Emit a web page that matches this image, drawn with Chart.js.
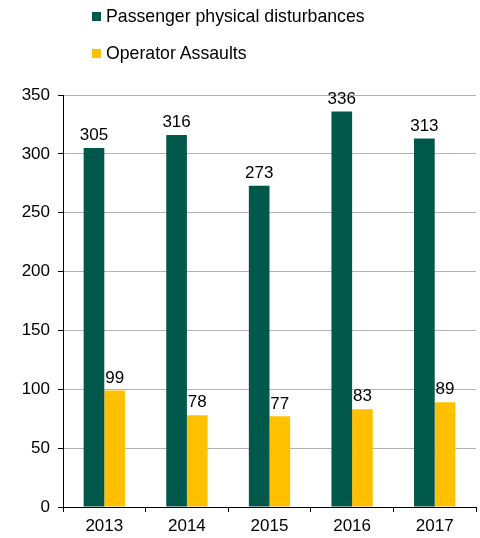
<!DOCTYPE html>
<html>
<head>
<meta charset="utf-8">
<script src="https://cdn.jsdelivr.net/npm/chart.js@4"></script>
<style>
  html, body { margin: 0; padding: 0; background: #fff; }
  #wrap { position: relative; width: 480px; height: 538px; }
  .legend { position: absolute; left: 92px; font: 17.7px "Liberation Sans", Arial, sans-serif; color: #000; white-space: nowrap; }
  .legend span.box { display: inline-block; width: 9px; height: 9px; margin-right: 5px; vertical-align: 1px; }
</style>
</head>
<body>
<div id="wrap">
  <div class="legend" style="top:6px"><span class="box" style="background:#00584a"></span>Passenger physical disturbances</div>
  <div class="legend" style="top:43px"><span class="box" style="background:#ffc000"></span>Operator Assaults</div>
  <canvas id="chart" width="480" height="538"></canvas>
</div>
<script>
const YEARS = ['2013', '2014', '2015', '2016', '2017'];
const DISTURBANCES = [305, 316, 273, 336, 313];
const ASSAULTS = [99, 78, 77, 83, 89];
const Y_TICKS = [0, 50, 100, 150, 200, 250, 300, 350];

const FONT = { family: '"Liberation Sans", Arial, sans-serif', size: 17 };

// draws the number above each bar
const valueLabels = {
  id: 'valueLabels',
  afterDatasetsDraw(chart) {
    const ctx = chart.ctx;
    ctx.save();
    ctx.font = FONT.size + 'px ' + FONT.family;
    ctx.fillStyle = '#000';
    ctx.textAlign = 'center';
    ctx.textBaseline = 'bottom';
    chart.data.datasets.forEach((ds, i) => {
      chart.getDatasetMeta(i).data.forEach((bar, j) => {
        ctx.fillText(ds.data[j], bar.x, bar.y - 4);
      });
    });
    ctx.restore();
  }
};

new Chart(document.getElementById('chart'), {
  type: 'bar',
  data: {
    labels: YEARS,
    datasets: [
      { label: 'Passenger physical disturbances', data: DISTURBANCES, backgroundColor: '#00584a' },
      { label: 'Operator Assaults', data: ASSAULTS, backgroundColor: '#ffc000' }
    ]
  },
  options: {
    responsive: false,
    animation: false,
    layout: { padding: { top: 95, right: 4, left: 0, bottom: 0 } },
    datasets: { bar: { categoryPercentage: 0.5, barPercentage: 1.0 } },
    plugins: { legend: { display: false }, tooltip: { enabled: false } },
    scales: {
      x: {
        grid: { drawOnChartArea: false, drawTicks: true, tickLength: 5, color: '#000', offset: true },
        border: { color: '#000', width: 1 },
        ticks: { color: '#000', font: FONT, padding: 4 },
        afterFit(axis) { axis.height = 31; }
      },
      y: {
        min: 0,
        max: 350,
        afterBuildTicks(axis) { axis.ticks = Y_TICKS.map(v => ({ value: v })); },
        grid: { color: '#b3b3b3', tickColor: '#000', tickLength: 5 },
        border: { color: '#000', width: 1 },
        ticks: { color: '#000', font: FONT, padding: 8 },
        afterFit(axis) { axis.width = 63; }
      }
    }
  },
  plugins: [valueLabels]
});
</script>
</body>
</html>
